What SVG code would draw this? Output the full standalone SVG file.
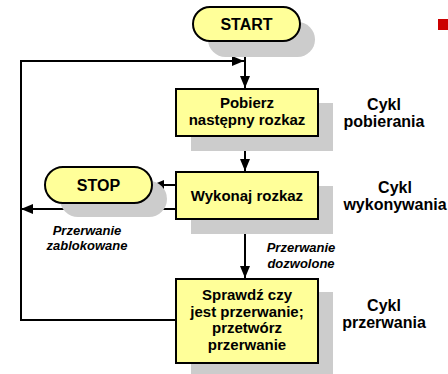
<svg xmlns="http://www.w3.org/2000/svg" width="448" height="374" viewBox="0 0 448 374">
<style>
.sh{fill:#cccccc;stroke:none}
.nd{fill:#ffff99;stroke:#000;stroke-width:2}
.t{font-family:"Liberation Sans",Arial,sans-serif;font-weight:bold;font-size:15px;fill:#000;text-anchor:middle}
.tl{font-size:16px}
.it{font-family:"Liberation Sans",Arial,sans-serif;font-weight:bold;font-style:italic;font-size:13px;fill:#000;text-anchor:middle}
.ln{fill:none;stroke:#000;stroke-width:2}
</style>
<defs>
<marker id="ah" viewBox="0 0 12 10" refX="12" refY="5" markerWidth="12" markerHeight="10" markerUnits="userSpaceOnUse" orient="auto">
<path d="M0,0 L12,5 L0,10 Z" fill="#000"/>
</marker>
</defs>
<rect x="438" y="19" width="10" height="11" fill="#cc0000"/>
<g id="connectors">
<path class="ln" d="M245,41 V88" marker-end="url(#ah)"/>
<path class="ln" d="M176,320 H21 V61 H244" marker-end="url(#ah)"/>
<path class="ln" d="M245,136 V171" marker-end="url(#ah)"/>
<path class="ln" d="M176,185 H152" marker-end="url(#ah)"/>
<path class="ln" d="M176,209 H21" marker-end="url(#ah)"/>
<path class="ln" d="M245,219 V278" marker-end="url(#ah)"/>
</g>
<g id="start">
<rect class="sh" x="208" y="22" width="107" height="35" rx="17.5"/>
<rect class="nd" x="193" y="7" width="107" height="34" rx="17"/>
<text class="t tl" x="246.5" y="30">START</text>
</g>
<g id="pobierz">
<rect class="sh" x="191" y="103" width="142" height="48"/>
<rect class="nd" x="176" y="89" width="142" height="47"/>
<text class="t" x="247" y="108">Pobierz</text>
<text class="t" x="247" y="125">następny rozkaz</text>
</g>
<g id="stop">
<rect class="sh" x="60" y="181" width="107" height="36" rx="18"/>
<rect class="nd" x="45" y="167" width="107" height="36" rx="18"/>
<text class="t tl" x="98.5" y="191">STOP</text>
</g>
<g id="wykonaj">
<rect class="sh" x="191" y="186" width="142" height="48"/>
<rect class="nd" x="176" y="172" width="142" height="47"/>
<text class="t" x="247" y="201">Wykonaj rozkaz</text>
</g>
<g id="sprawdz">
<rect class="sh" x="191" y="292" width="142" height="84"/>
<rect class="nd" x="176" y="279" width="142" height="84"/>
<text class="t" x="247" y="300">Sprawdź czy</text>
<text class="t" x="247" y="316.5">jest przerwanie;</text>
<text class="t" x="247" y="333">przetwórz</text>
<text class="t" x="247" y="349.5">przerwanie</text>
</g>
<g id="labels">
<text class="it" x="87" y="235">Przerwanie</text>
<text class="it" x="87" y="250">zablokowane</text>
<text class="it" x="301" y="252">Przerwanie</text>
<text class="it" x="301" y="268">dozwolone</text>
<text class="t tl" x="384" y="110">Cykl</text>
<text class="t tl" x="384" y="127">pobierania</text>
<text class="t tl" x="395" y="193">Cykl</text>
<text class="t tl" x="395" y="210">wykonywania</text>
<text class="t tl" x="384" y="311">Cykl</text>
<text class="t tl" x="384" y="328">przerwania</text>
</g>
</svg>
